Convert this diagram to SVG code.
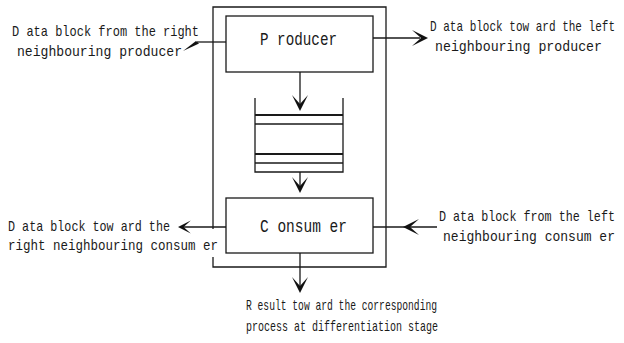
<svg xmlns="http://www.w3.org/2000/svg" width="624" height="343" viewBox="0 0 624 343">
  <style>
    .ln { fill: none; stroke: #1a1a1a; stroke-width: 1.3; }
    .thick { stroke-width: 1.8; }
    .ah { fill: #111; stroke: none; }
    .lbl { font-family: "Liberation Mono", "Courier New", monospace; font-size: 11.5px; fill: #1a1a1a; }
    .node { font-family: "Liberation Mono", "Courier New", monospace; font-size: 14px; fill: #1a1a1a; }
  </style>
  <defs>
    <!-- barbed arrowhead, tip at origin, pointing along +x -->
    <path id="arrowhead" class="ah" d="M0,0 L-16,-8 L-7,0 L-16,8 Z"/>
  </defs>
  <rect width="624" height="343" fill="#ffffff"/>

  <!-- processing element frame -->
  <g id="frame">
    <path class="ln" d="M213,229 V7 H386 V267 H213 V257"/>
  </g>

  <g id="producer">
    <rect class="ln" x="226" y="16" width="147" height="56"/>
    <text class="node" transform="translate(260,45) scale(1,1.3)" textLength="77" lengthAdjust="spacingAndGlyphs">P roducer</text>
  </g>

  <g id="buffer">
    <path class="ln" d="M255,98 V172 H343 V98"/>
    <line class="ln thick" x1="255" y1="115" x2="343" y2="115"/>
    <line class="ln" x1="255" y1="124" x2="343" y2="124"/>
    <line class="ln thick" x1="255" y1="154" x2="343" y2="154"/>
    <line class="ln" x1="255" y1="163" x2="343" y2="163"/>
  </g>

  <g id="consumer">
    <rect class="ln" x="226" y="198" width="147" height="55"/>
    <text class="node" transform="translate(260,232) scale(1,1.3)" textLength="87" lengthAdjust="spacingAndGlyphs">C onsum er</text>
  </g>

  <g id="connectors">
    <!-- from the right neighbouring producer -->
    <line class="ln" x1="197" y1="42" x2="226" y2="42"/>
    <polygon class="ah" points="183,51 196,41 199,43.5"/>
    <!-- producer to the left neighbouring producer -->
    <line class="ln" x1="373" y1="38" x2="420" y2="38"/>
    <use href="#arrowhead" transform="translate(428,38)"/>
    <!-- producer to buffer -->
    <line class="ln" x1="300" y1="72" x2="300" y2="104"/>
    <use href="#arrowhead" transform="translate(300,111) rotate(90)"/>
    <!-- buffer to consumer -->
    <line class="ln" x1="300" y1="172" x2="300" y2="186"/>
    <use href="#arrowhead" transform="translate(300,193) rotate(90)"/>
    <!-- consumer to the right neighbouring consumer -->
    <line class="ln" x1="182" y1="227" x2="226" y2="227"/>
    <use href="#arrowhead" transform="translate(178,227) rotate(180) scale(0.8)"/>
    <!-- from the left neighbouring consumer -->
    <line class="ln" x1="373" y1="227" x2="437" y2="227"/>
    <use href="#arrowhead" transform="translate(403,227) rotate(180)"/>
    <!-- consumer result output -->
    <line class="ln" x1="300" y1="253" x2="300" y2="286"/>
    <use href="#arrowhead" transform="translate(300,293) rotate(90)"/>
  </g>

  <g id="labels">
    <text class="lbl" transform="translate(12,36) scale(1,1.25)" textLength="187" lengthAdjust="spacingAndGlyphs">D ata block from the right</text>
    <text class="lbl" transform="translate(17,56) scale(1,1.25)" textLength="165" lengthAdjust="spacingAndGlyphs">neighbouring producer</text>
    <text class="lbl" transform="translate(430,31) scale(1,1.25)" textLength="185" lengthAdjust="spacingAndGlyphs">D ata block tow ard the left</text>
    <text class="lbl" transform="translate(435,51) scale(1,1.25)" textLength="167" lengthAdjust="spacingAndGlyphs">neighbouring producer</text>
    <text class="lbl" transform="translate(8,231) scale(1,1.25)" textLength="162" lengthAdjust="spacingAndGlyphs">D ata block tow ard the</text>
    <text class="lbl" transform="translate(8,250) scale(1,1.25)" textLength="210" lengthAdjust="spacingAndGlyphs">right neighbouring consum er</text>
    <text class="lbl" transform="translate(439,221) scale(1,1.25)" textLength="176" lengthAdjust="spacingAndGlyphs">D ata block from the left</text>
    <text class="lbl" transform="translate(443,241) scale(1,1.25)" textLength="172" lengthAdjust="spacingAndGlyphs">neighbouring consum er</text>
    <text class="lbl" transform="translate(246,310) scale(1,1.25)" textLength="191" lengthAdjust="spacingAndGlyphs">R esult tow ard the corresponding</text>
    <text class="lbl" transform="translate(246,331) scale(1,1.25)" textLength="192" lengthAdjust="spacingAndGlyphs">process at differentiation stage</text>
  </g>
</svg>
